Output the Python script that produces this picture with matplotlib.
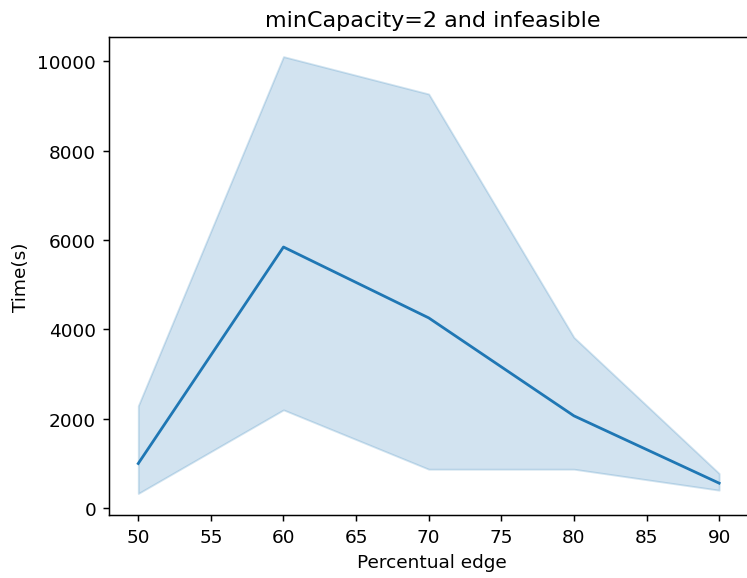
import matplotlib
matplotlib.use('Agg')
import matplotlib.pyplot as plt
import numpy as np

# percentage of edges vs. solve time (mean with 95% CI band)
edge_pct = [50, 60, 70, 80, 90]
time_mean = [1000, 5846, 4260, 2067, 560]
time_low = [329, 2201, 873, 873, 403]
time_high = [2291, 10108, 9272, 3823, 777]

fig, ax = plt.subplots(figsize=(5.61, 4.3425), dpi=133.33)
fig.subplots_adjust(left=0.146, right=1.01, bottom=0.109, top=0.935)

ax.fill_between(edge_pct, time_low, time_high, color='#1f77b4', alpha=0.2, lw=1)
ax.plot(edge_pct, time_mean, c='#1f77b4', lw=1.5)

ax.set_title('minCapacity=2 and infeasible')
ax.set_xlabel('Percentual edge')
ax.set_ylabel('Time(s)')
ax.set_xticks(np.arange(50, 91, 5))
ax.set_xlim(48, 92.5)
ax.set_ylim(-150, 10555)

fig.savefig('out.png')
